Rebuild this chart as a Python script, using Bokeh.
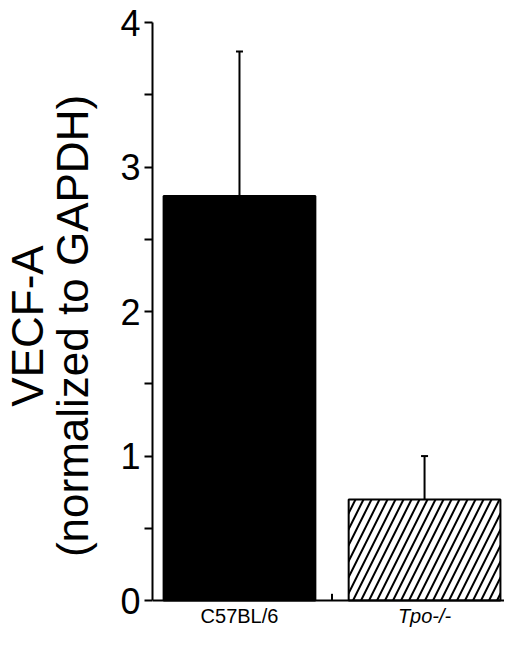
from bokeh.plotting import figure
from bokeh.models import (ColumnDataSource, Range1d, FixedTicker, Whisker, TeeHead, Span)
from bokeh.core.properties import value
from bokeh.embed import file_html
from bokeh.resources import INLINE

categories = ["C57BL/6", "Tpo-/-"]
means = [2.8, 0.7]
errors = [1.0, 0.3]
y_ticks = [0, 1, 2, 3, 4]
y_minor = [0.5, 1.5, 2.5, 3.5]

FONT = "Liberation Sans"
xs = list(range(len(categories)))
upper = [m + e for m, e in zip(means, errors)]

p = figure(width=504, height=629, output_backend="svg", toolbar_location=None,
           x_range=Range1d(-0.47, 1.432), y_range=Range1d(-0.2, 4),
           x_axis_location=None,
           min_border_left=144, min_border_top=22, min_border_bottom=0, min_border_right=0)
p.outline_line_color = None
p.xgrid.visible = False
p.ygrid.visible = False
p.background_fill_color = "white"
p.border_fill_color = "white"

src_black = ColumnDataSource(dict(x=[xs[0]], top=[means[0]]))
src_hatch = ColumnDataSource(dict(x=[xs[1]], top=[means[1]]))
p.vbar(x="x", top="top", bottom=0, width=0.82, source=src_black,
       fill_color="black", line_color="black", line_width=2)
p.vbar(x="x", top="top", bottom=0, width=0.82, source=src_hatch,
       fill_color="white", line_color="black", line_width=2,
       hatch_pattern="/", hatch_color="black", hatch_weight=2, hatch_scale=16)

err_src = ColumnDataSource(dict(x=xs, lower=means, upper=upper))
w = Whisker(base="x", lower="lower", upper="upper", source=err_src,
            line_color="black", line_width=2,
            upper_head=TeeHead(size=7, line_color="black", line_width=2),
            lower_head=None)
p.add_layout(w)

ya = p.yaxis[0]
ya.ticker = FixedTicker(ticks=y_ticks, minor_ticks=y_minor)
ya.bounds = (y_ticks[0], y_ticks[-1])
ya.axis_line_width = 2
ya.major_tick_line_width = 2
ya.minor_tick_line_width = 2
ya.major_tick_out = 8
ya.major_tick_in = 0
ya.minor_tick_out = 8
ya.minor_tick_in = 0
ya.major_label_text_font = FONT
ya.major_label_text_font_size = "36px"
ya.major_label_text_color = "black"
ya.major_label_standoff = 4
ya.axis_label = "VECF-A\n(normalized to GAPDH)"
ya.axis_label_text_font = FONT
ya.axis_label_text_font_size = "44px"
ya.axis_label_text_font_style = "normal"
ya.axis_label_text_line_height = 0.92
ya.axis_label_text_color = "black"
ya.axis_label_standoff = 20

p.add_layout(Span(location=y_ticks[0], dimension="width", line_color="black", line_width=2))
boundary = (xs[0] + xs[1]) / 2
p.segment(x0=[boundary], y0=[0], x1=[boundary], y1=[0.047], line_color="black", line_width=2)

lab_src = [ColumnDataSource(dict(x=[xs[i]], y=[0], t=[categories[i]])) for i in range(len(categories))]
for i in range(len(categories)):
    p.text(x="x", y="y", text="t", source=lab_src[i], y_offset=4,
           text_align="center", text_baseline="top",
           text_font=value(FONT), text_font_size=value("20px"), text_color="black",
           text_font_style=value("italic" if i == 1 else "normal"))

open("out.html", "w").write(file_html(p, INLINE))
